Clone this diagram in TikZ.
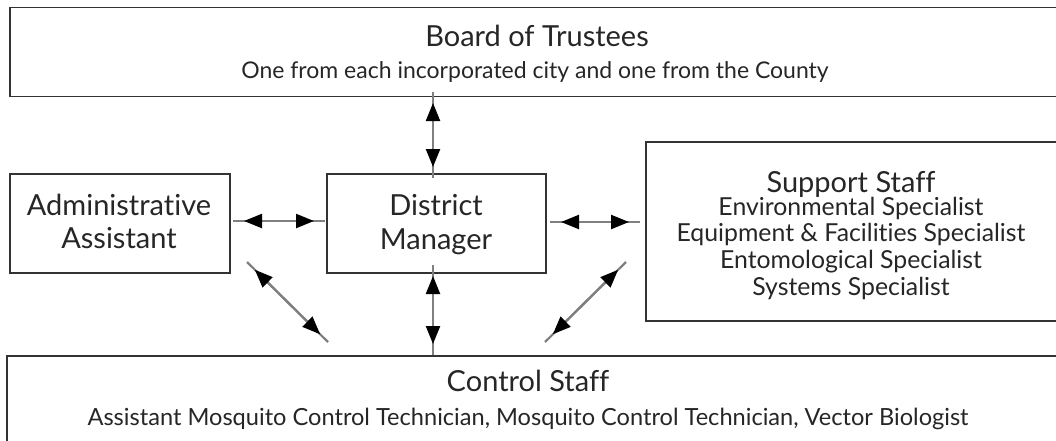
\documentclass[tikz,border=0pt]{standalone}
\usepackage{fontspec}
\setmainfont{Lato}[Ligatures=NoCommon]
\usetikzlibrary{arrows.meta}
\begin{document}
\begin{tikzpicture}[x=1pt,y=-1pt,
  box/.style={draw=black!80, line width=1.6pt, inner sep=0pt, outer sep=0pt, anchor=north west},
  big/.style={font=\fontsize{29}{32}\selectfont, text=black!85, anchor=base, inner sep=0pt},
  small/.style={font=\fontsize{24.5}{28}\selectfont, text=black!85, anchor=base, inner sep=0pt},
  link/.style={draw=black!50, line width=2.2pt},
  tips/.style={draw=black!50, line width=2.2pt, shorten <=11pt, shorten >=11pt,
    {Triangle[color=black,length=18pt,width=14pt]}-{Triangle[color=black,length=18pt,width=14pt]}}]
\clip (0,0) rectangle (1056,440);
% boxes
\node[box, minimum width=1060pt, minimum height=89pt] (board) at (10,7.5) {};
\node[box, minimum width=220pt, minimum height=99pt] (admin) at (10,174) {};
\node[box, minimum width=219pt, minimum height=99pt] (dm) at (327,174) {};
\node[box, minimum width=420pt, minimum height=179pt] (support) at (646,142) {};
\node[box, minimum width=1060pt, minimum height=100pt] (control) at (7,356) {};
% texts
\node[big] (boardt) at (537,46) {Board of Trustees};
\node[small, font=\fontsize{23}{26}\selectfont] (boards) at (535,78) {One from each incorporated city and one from the County};
\node[big] (admin1) at (119,215) {Administrative};
\node[big] (admin2) at (119,248) {Assistant};
\node[big] (dm1) at (436,215) {District};
\node[big] (dm2) at (436,249) {Manager};
\node[big] (sup0) at (851,192) {Support Staff};
\node[small, font=\fontsize{24.8}{28}\selectfont] (sup1) at (851,215) {Environmental Specialist};
\node[small, font=\fontsize{24.8}{28}\selectfont] (sup2) at (851,241.5) {Equipment \& Facilities Specialist};
\node[small, font=\fontsize{24.8}{28}\selectfont] (sup3) at (851,268) {Entomological Specialist};
\node[small, font=\fontsize{24.8}{28}\selectfont] (sup4) at (851,295) {Systems Specialist};
\node[big] (ctrlt) at (528,391) {Control Staff};
\node[small, font=\fontsize{23.6}{27}\selectfont] (ctrls) at (528,425) {Assistant Mosquito Control Technician, Mosquito Control Technician, Vector Biologist};
% connector end points
\coordinate (vt1) at (433,92);
\coordinate (vt2) at (433,178);
\coordinate (vb1) at (433,265);
\coordinate (vb2) at (433,355);
\coordinate (hl1) at (233,221);
\coordinate (hl2) at (325,221);
\coordinate (hr1) at (550,222);
\coordinate (hr2) at (640,222);
\coordinate (dl1) at (247,262);
\coordinate (dl2) at (328,342);
\coordinate (dr1) at (545,342);
\coordinate (dr2) at (626,262);
% connectors
\foreach \a/\b in {vt1/vt2, vb1/vb2, hl1/hl2, hr1/hr2, dl1/dl2, dr1/dr2}{
  \draw[link] (\a) -- (\b);
  \draw[tips] (\a) -- (\b);
}
\end{tikzpicture}
\end{document}
